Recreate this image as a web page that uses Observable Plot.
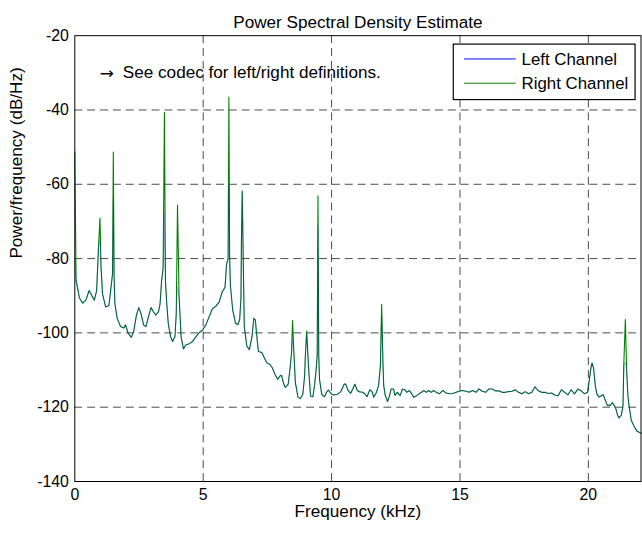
<!DOCTYPE html>
<html>
<head>
<meta charset="utf-8">
<script src="https://cdn.jsdelivr.net/npm/d3@7"></script>
<script src="https://cdn.jsdelivr.net/npm/@observablehq/plot@0.6"></script>
<style>
  html, body { margin: 0; padding: 0; background: #fff; overflow: hidden; }
  #chart svg { display: block; }
</style>
</head>
<body>
<div id="chart"></div>
<script>
// ---- Data ----
const freqKHz = [
  0, 0.05, 0.18, 0.31, 0.43, 0.56, 0.65, 0.76, 0.85, 0.93,
  0.98, 1.02, 1.08, 1.2, 1.33, 1.44, 1.47, 1.5, 1.53, 1.56,
  1.65, 1.78, 1.91, 1.97, 2.08, 2.2, 2.29, 2.4, 2.49, 2.58,
  2.68, 2.77, 2.87, 2.97, 3.06, 3.15, 3.26, 3.32, 3.38, 3.44,
  3.49, 3.53, 3.58, 3.64, 3.73, 3.81, 3.9, 3.95, 4.0, 4.06,
  4.14, 4.23, 4.33, 4.46, 4.59, 4.72, 4.85, 4.97, 5.1, 5.23,
  5.36, 5.49, 5.62, 5.74, 5.85, 5.91, 5.97, 6.0, 6.03, 6.06,
  6.15, 6.26, 6.35, 6.42, 6.47, 6.49, 6.52, 6.55, 6.6, 6.7,
  6.8, 6.9, 6.97, 7.03, 7.09, 7.15, 7.28, 7.38, 7.47, 7.6,
  7.69, 7.8, 7.9, 7.99, 8.05, 8.12, 8.2, 8.31, 8.38, 8.44,
  8.48, 8.53, 8.59, 8.69, 8.78, 8.88, 8.95, 8.98, 9.03, 9.1,
  9.18, 9.27, 9.33, 9.4, 9.44, 9.47, 9.5, 9.53, 9.62, 9.72,
  9.81, 9.88, 9.97, 10.08, 10.23, 10.36, 10.49, 10.55, 10.64, 10.74,
  10.85, 10.91, 11.0, 11.1, 11.19, 11.28, 11.38, 11.49, 11.58, 11.64,
  11.74, 11.83, 11.9, 11.95, 12.0, 12.03, 12.09, 12.18, 12.26, 12.32,
  12.41, 12.47, 12.56, 12.67, 12.76, 12.86, 12.92, 13.03, 13.12, 13.2,
  13.31, 13.41, 13.5, 13.59, 13.69, 13.78, 13.88, 13.97, 14.08, 14.2,
  14.33, 14.46, 14.59, 14.72, 14.85, 14.97, 15.1, 15.23, 15.36, 15.49,
  15.62, 15.74, 15.87, 16.0, 16.13, 16.26, 16.38, 16.51, 16.64, 16.77,
  16.9, 17.03, 17.15, 17.28, 17.41, 17.54, 17.67, 17.8, 17.92, 18.05,
  18.18, 18.31, 18.44, 18.57, 18.69, 18.82, 18.95, 19.08, 19.2, 19.33,
  19.46, 19.59, 19.72, 19.85, 19.97, 20.04, 20.1, 20.14, 20.2, 20.27,
  20.33, 20.42, 20.49, 20.58, 20.64, 20.74, 20.85, 20.94, 21.0, 21.07,
  21.13, 21.19, 21.28, 21.35, 21.38, 21.44, 21.49, 21.54, 21.6, 21.67,
  21.73, 21.81, 21.9, 22.05
];

const leftDb = [
  -80.5, -85.8, -90.6, -92, -91.2, -88.6, -89.8, -91.2, -88.6, -76,
  -75, -82, -89.5, -93, -92.6, -85.9, -84, -64.1, -85, -92.1,
  -96.1, -98.3, -98.7, -97.8, -100.1, -101.2, -99.7, -95.2, -93.2, -94.8,
  -97.9, -98.3, -95.6, -93.2, -94.3, -95.2, -94.3, -92.2, -86, -82.4,
  -68, -86, -92, -97.5, -101, -102.3, -101, -95, -87.5, -90,
  -101, -104.3, -103.2, -102.9, -102.3, -101, -99.9, -99.3, -97.9, -95.7,
  -93.5, -92.8, -91.7, -89, -87.7, -81.5, -80, -60.5, -80, -87.3,
  -93.9, -97.4, -97.8, -96.4, -90.8, -75, -61.8, -76, -98.3, -103.6,
  -104.5, -101, -96.1, -96.5, -101, -105, -105.3, -106.7, -108, -108.5,
  -109.4, -111.2, -112.5, -111.6, -111.4, -113.4, -114.7, -113.8, -109.8, -105.4,
  -101.8, -105, -113.4, -117.3, -117.7, -116.5, -111.6, -106, -100.5, -109,
  -117, -117.2, -114.5, -109.8, -106, -71, -106, -112.5, -116.6, -117.2,
  -115.9, -115.4, -116.3, -116.7, -116.5, -115.8, -113.8, -113.8, -115.5, -116.3,
  -114.7, -113.8, -115.5, -115.9, -115.9, -116.3, -117.2, -115.3, -115.9, -117.3,
  -116.1, -114.2, -109, -95.5, -108, -114.2, -116.8, -118.5, -116.8, -115.1,
  -115.1, -116.8, -116, -116.9, -115.1, -115.3, -116, -115.5, -116.4, -117.3,
  -116.9, -116.4, -116, -115.5, -116, -115.5, -116, -115.5, -116, -116.4,
  -115.5, -116.2, -116.4, -116.3, -116, -115.7, -115.5, -115.7, -116, -115.5,
  -116, -115.1, -115.7, -116, -115.1, -115.1, -115.6, -115.6, -116, -116,
  -115.8, -115.7, -115.3, -116, -116.4, -115.8, -116.4, -116, -114.5, -115.6,
  -116, -116, -116.3, -116.2, -116.7, -116.9, -115.3, -116, -116.7, -115.3,
  -116.4, -115.1, -115.6, -116.4, -116, -112.5, -109.4, -108.1, -109.4, -114.2,
  -116.4, -117.3, -117, -116.6, -117.8, -119.5, -119.5, -118.8, -119.5, -120.4,
  -122, -122.9, -122.2, -119.5, -108.5, -108, -110, -117, -120.4, -123.5,
  -124.4, -125.5, -126.5, -127
];

const rightDb = [
  -51.3, -85.8, -90.6, -92, -91.2, -88.6, -89.8, -91.2, -88.6, -76,
  -69.1, -82, -89.5, -93, -92.6, -85.9, -84, -51.3, -85, -92.1,
  -96.1, -98.3, -98.7, -97.8, -100.1, -101.2, -99.7, -95.2, -93.2, -94.8,
  -97.9, -98.3, -95.6, -93.2, -94.3, -95.2, -94.3, -92.2, -86, -82.4,
  -40.6, -86, -92, -97.5, -101, -102.3, -101, -95, -65.6, -90,
  -101, -104.3, -103.2, -102.9, -102.3, -101, -99.9, -99.3, -97.9, -95.7,
  -93.5, -92.8, -91.7, -89, -87.7, -81.5, -80, -36.5, -80, -87.3,
  -93.9, -97.4, -97.8, -96.4, -90.8, -75, -61.8, -76, -98.3, -103.6,
  -104.5, -101, -96.1, -96.5, -101, -105, -105.3, -106.7, -108, -108.5,
  -109.4, -111.2, -112.5, -111.6, -111.4, -113.4, -114.7, -113.8, -109.8, -105.4,
  -96.7, -105, -113.4, -117.3, -117.7, -116.5, -111.6, -106, -99.5, -109,
  -117, -117.2, -114.5, -109.8, -106, -63.1, -106, -112.5, -116.6, -117.2,
  -115.9, -115.4, -116.3, -116.7, -116.5, -115.8, -113.8, -113.8, -115.5, -116.3,
  -114.7, -113.8, -115.5, -115.9, -115.9, -116.3, -117.2, -115.3, -115.9, -117.3,
  -116.1, -114.2, -109, -92.3, -108, -114.2, -116.8, -118.5, -116.8, -115.1,
  -115.1, -116.8, -116, -116.9, -115.1, -115.3, -116, -115.5, -116.4, -117.3,
  -116.9, -116.4, -116, -115.5, -116, -115.5, -116, -115.5, -116, -116.4,
  -115.5, -116.2, -116.4, -116.3, -116, -115.7, -115.5, -115.7, -116, -115.5,
  -116, -115.1, -115.7, -116, -115.1, -115.1, -115.6, -115.6, -116, -116,
  -115.8, -115.7, -115.3, -116, -116.4, -115.8, -116.4, -116, -114.5, -115.6,
  -116, -116, -116.3, -116.2, -116.7, -116.9, -115.3, -116, -116.7, -115.3,
  -116.4, -115.1, -115.6, -116.4, -116, -112.5, -109.4, -108.1, -109.4, -114.2,
  -116.4, -117.3, -117, -116.6, -117.8, -119.5, -119.5, -118.8, -119.5, -120.4,
  -122, -122.9, -122.2, -119.5, -108.5, -96.4, -110, -117, -120.4, -123.5,
  -124.4, -125.5, -126.5, -127
];

const seriesNames = ["Left Channel", "Right Channel"];
const seriesColors = ["#0000ff", "#008000"];
const xTicks = [0, 5, 10, 15, 20];
const yTicks = [-140, -120, -100, -80, -60, -40, -20];
const xGrid = [5, 10, 15, 20];
const yGrid = [-120, -100, -80, -60, -40];
const arrowNote = [{f: 0.97, db: -30, label: "\u2192"}];
const textNote = [{f: 1.87, db: -30, label: "See codec for left/right definitions."}];
const titleText = "Power Spectral Density Estimate";
const xLabel = "Frequency (kHz)";
const yLabel = "Power/frequency (dB/Hz)";

// ---- Chart ----
const rows = freqKHz.map((f, i) => ({f, left: leftDb[i], right: rightDb[i]}));
const FONT = "'Liberation Sans', Arial, Helvetica, sans-serif";
const W = 648, H = 533;
const mL = 75, mR = 1.5, mT = 35.5, mB = 47.5;

const svg = Plot.plot({
  width: W,
  height: H,
  marginLeft: mL,
  marginRight: mR,
  marginTop: mT,
  marginBottom: mB,
  style: {fontFamily: FONT, fontSize: "16px", color: "#000", background: "#fff", overflow: "visible"},
  x: {domain: [0, 22.05]},
  y: {domain: [-140, -20]},
  marks: [
    Plot.gridX(xGrid, {stroke: "#000", strokeOpacity: 0.72, strokeDasharray: "8,5", strokeWidth: 1}),
    Plot.gridY(yGrid, {stroke: "#000", strokeOpacity: 0.72, strokeDasharray: "8,5", strokeWidth: 1}),
    Plot.line(rows, {x: "f", y: "right", stroke: seriesColors[1], strokeWidth: 1.1}),
    Plot.line(rows, {x: "f", y: "left", stroke: seriesColors[0], strokeWidth: 1.1, strokeOpacity: 0.25}),
    Plot.frame({stroke: "#000", strokeWidth: 1}),
    Plot.axisX(xTicks, {tickSize: 0, tickPadding: 7, tickFormat: d => String(d), label: null, fontSize: 16}),
    Plot.axisY(yTicks, {tickSize: 0, tickPadding: 6, tickFormat: d => String(d), label: null, fontSize: 16}),
    Plot.text(arrowNote, {x: "f", y: "db", text: "label", textAnchor: "start", fontSize: 17, fontFamily: "DejaVu Sans", fill: "#000", dy: 1}),
    Plot.text(textNote, {x: "f", y: "db", text: "label", textAnchor: "start", fontSize: 17.3, fill: "#000"}),
    Plot.text([titleText], {frameAnchor: "top", dy: -20.2, fontSize: 17.3, fill: "#000"}),
    Plot.text([xLabel], {frameAnchor: "bottom", dy: 36.3, fontSize: 17.3, fill: "#000"}),
    Plot.text([yLabel], {frameAnchor: "left", rotate: -90, dx: -58.6, fontSize: 17.3, fill: "#000"})
  ]
});

// ---- Legend box (inside the axes, top-right) ----
const lg = d3.select(svg).append("g")
  .attr("font-family", FONT).attr("font-size", 17).attr("text-anchor", "start");
const boxX = 457.5, boxY = 44.5, boxW = 183.5, boxH = 56;
lg.append("rect").attr("x", boxX).attr("y", boxY).attr("width", boxW).attr("height", boxH)
  .attr("fill", "#fff").attr("stroke", "#000").attr("stroke-width", 1.2);
seriesNames.forEach((name, i) => {
  const cy = boxY + 15 + i * 24.5;
  lg.append("line").attr("x1", boxX + 11).attr("x2", boxX + 63).attr("y1", cy).attr("y2", cy)
    .attr("stroke", seriesColors[i]).attr("stroke-width", 1);
  lg.append("text").attr("x", boxX + 69).attr("y", cy).attr("dy", "0.35em")
    .attr("text-anchor", "start").attr("fill", "#000").text(name);
});

document.getElementById("chart").appendChild(svg);
</script>
</body>
</html>
